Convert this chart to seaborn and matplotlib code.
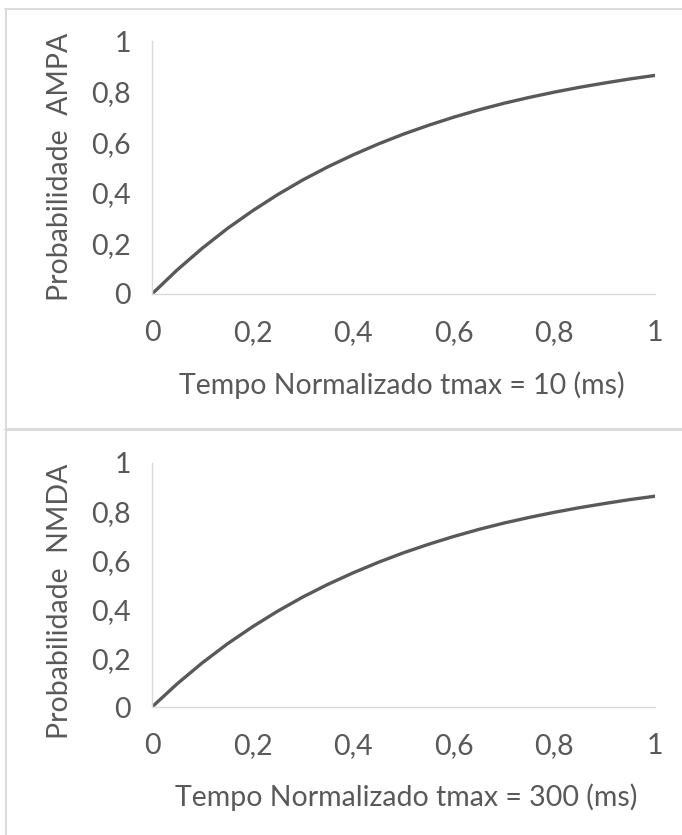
import matplotlib
matplotlib.use("Agg")
import matplotlib.pyplot as plt
import seaborn as sns
import pandas as pd
from matplotlib.lines import Line2D

# ---- data ----
tempo = [0.0, 0.05, 0.1, 0.15, 0.2, 0.25, 0.3, 0.35, 0.4, 0.45, 0.5,
         0.55, 0.6, 0.65, 0.7, 0.75, 0.8, 0.85, 0.9, 0.95, 1.0]
prob_ampa = [0.0, 0.095, 0.181, 0.259, 0.329, 0.393, 0.451, 0.503, 0.550, 0.593, 0.632,
             0.667, 0.699, 0.728, 0.754, 0.777, 0.798, 0.817, 0.834, 0.850, 0.864]
prob_nmda = [0.0, 0.095, 0.181, 0.259, 0.329, 0.393, 0.451, 0.503, 0.550, 0.593, 0.632,
             0.667, 0.699, 0.728, 0.754, 0.777, 0.798, 0.817, 0.834, 0.850, 0.864]
tick_vals = [0, 0.2, 0.4, 0.6, 0.8, 1]
tick_labels = ["0", "0,2", "0,4", "0,6", "0,8", "1"]
xlabels = ["Tempo Normalizado tmax = 10 (ms)", "Tempo Normalizado tmax = 300 (ms)"]
ylabels = ["Probabilidade  AMPA", "Probabilidade  NMDA"]

sns.set_style("white")
plt.rcParams["font.family"] = ["Lato", "DejaVu Sans"]

W, H = 682, 835
fig = plt.figure(figsize=(W / 100, H / 100), dpi=100)
fig.patch.set_facecolor("white")

TXT = "#595959"
GRID = "#d9d9d9"
FS = 20.5

def fx(px):
    return px / W

def fy(py):
    return 1 - py / H

# panel borders
border = dict(color=GRID, lw=1.3, transform=fig.transFigure)
fig.add_artist(Line2D([fx(5.5), fx(5.5)], [fy(9), fy(835)], **border))
fig.add_artist(Line2D([fx(5), fx(682)], [fy(9), fy(9)], **border))
fig.add_artist(Line2D([fx(5), fx(682)], [fy(429), fy(429)], color=GRID, lw=2.0,
                      transform=fig.transFigure))

panels = [
    dict(y0=294, y1=41, series=prob_ampa, xl=xlabels[0], yl=ylabels[0],
         xlpos=(402, 385), ylpos=(60, 167)),
    dict(y0=707, y1=463, series=prob_nmda, xl=xlabels[1], yl=ylabels[1],
         xlpos=(406, 797), ylpos=(60, 601)),
]

x0, x1 = 152, 655
for p in panels:
    ax = fig.add_axes([fx(x0), fy(p["y0"]), (x1 - x0) / W, (p["y0"] - p["y1"]) / H])
    df = pd.DataFrame({"t": tempo, "p": p["series"]})
    sns.lineplot(data=df, x="t", y="p", ax=ax, color="#595959", linewidth=2.4,
                 solid_capstyle="round")
    ax.set_xlim(0, 1)
    ax.set_ylim(0, 1)
    ax.set_xticks(tick_vals)
    ax.set_xticklabels(tick_labels)
    ax.set_yticks(tick_vals)
    ax.set_yticklabels(tick_labels)
    ax.tick_params(axis="both", length=0, labelsize=FS, labelcolor=TXT)
    ax.tick_params(axis="x", pad=19)
    ax.tick_params(axis="y", pad=15)
    ax.set_xlabel("")
    ax.set_ylabel("")
    for s in ["top", "right"]:
        ax.spines[s].set_visible(False)
    for s in ["left", "bottom"]:
        ax.spines[s].set_color(GRID)
        ax.spines[s].set_linewidth(1.0)
    ax.patch.set_alpha(0)
    fig.text(fx(p["xlpos"][0]), fy(p["xlpos"][1]), p["xl"], ha="center", va="center",
             fontsize=FS, color=TXT)
    fig.text(fx(p["ylpos"][0]), fy(p["ylpos"][1]), p["yl"], ha="center", va="center",
             rotation=90, fontsize=FS, color=TXT)

fig.savefig("out.png", dpi=100, facecolor="white")
